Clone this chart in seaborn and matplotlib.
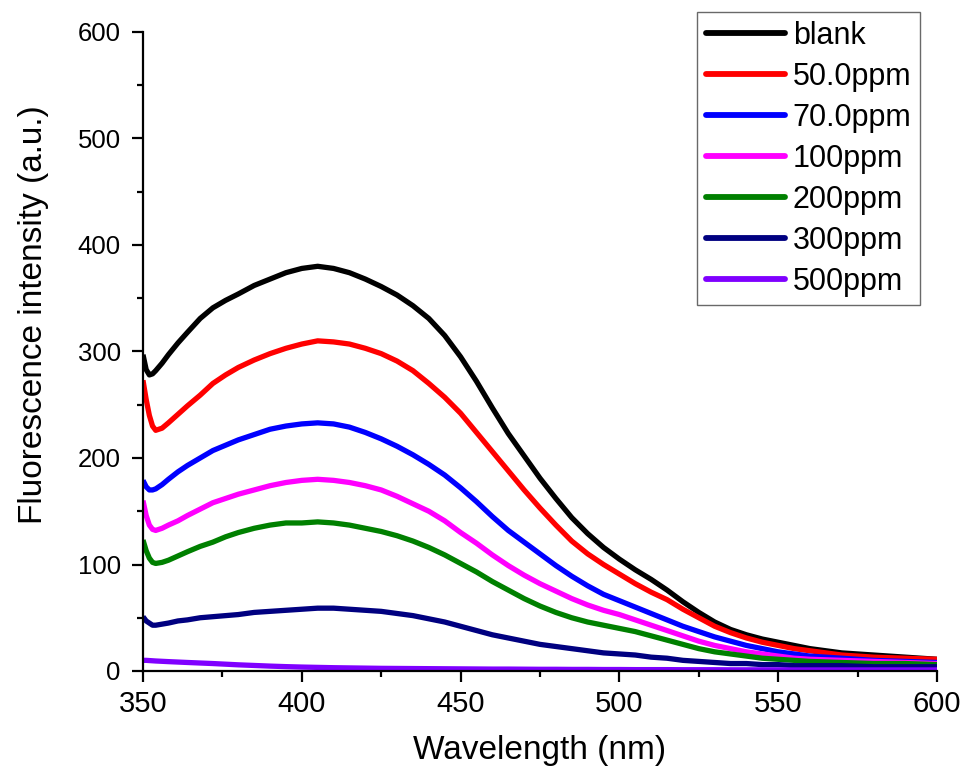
import numpy as np
import pandas as pd
import matplotlib
matplotlib.use("Agg")
import matplotlib.pyplot as plt
from matplotlib.ticker import MultipleLocator
from matplotlib import font_manager
import seaborn as sns

wavelength = [350, 351, 352, 353, 354, 356, 358, 361, 364, 368, 372, 376, 380,
              385, 390, 395, 400, 405, 410, 415, 420, 425, 430, 435, 440, 445, 450,
              455, 460, 465, 470, 475, 480, 485, 490, 495, 500, 505, 510, 515, 520,
              525, 530, 535, 540, 545, 550, 555, 560, 570, 580, 590, 600]

blank = [297, 283, 278, 279, 282, 289, 297, 308, 318, 331, 341, 348, 354,
         362, 368, 374, 378, 380, 378, 374, 368, 361, 353, 343, 331, 315, 295,
         272, 247, 223, 202, 181, 162, 144, 129, 116, 105, 95, 86, 76, 65,
         55, 46, 39, 34, 30, 27, 24, 21, 17, 15, 13, 11]
ppm50 = [273, 255, 240, 230, 226, 228, 233, 241, 249, 259, 270, 278, 285,
         292, 298, 303, 307, 310, 309, 307, 303, 298, 291, 282, 270, 257, 242,
         224, 206, 188, 170, 153, 137, 122, 110, 100, 91, 82, 74, 67, 58,
         50, 42, 36, 31, 27, 24, 21, 19, 15, 13, 12, 11]
ppm70 = [179, 173, 170, 170, 171, 175, 180, 187, 193, 200, 207, 212, 217,
         222, 227, 230, 232, 233, 232, 229, 224, 218, 211, 203, 194, 184, 172,
         159, 145, 132, 121, 110, 99, 89, 80, 72, 66, 60, 54, 48, 42,
         37, 32, 28, 24, 21, 18, 16, 14, 12, 10, 9, 8]
ppm100 = [160, 146, 137, 133, 132, 134, 137, 141, 146, 152, 158, 162, 166,
          170, 174, 177, 179, 180, 179, 177, 174, 170, 164, 157, 150, 141, 130,
          120, 109, 99, 90, 82, 75, 68, 62, 57, 53, 48, 43, 38, 33,
          28, 24, 21, 18, 16, 14, 12, 11, 10, 9, 8, 7]
ppm200 = [123, 113, 106, 102, 101, 102, 104, 108, 112, 117, 121, 126, 130,
          134, 137, 139, 139, 140, 139, 137, 134, 131, 127, 122, 116, 109, 101,
          93, 84, 76, 68, 61, 55, 50, 46, 43, 40, 37, 33, 29, 25,
          21, 18, 16, 14, 12, 11, 10, 9, 8, 7, 7, 6]
ppm300 = [51, 47, 45, 43, 43, 44, 45, 47, 48, 50, 51, 52, 53,
          55, 56, 57, 58, 59, 59, 58, 57, 56, 54, 52, 49, 46, 42,
          38, 34, 31, 28, 25, 23, 21, 19, 17, 16, 15, 13, 12, 10,
          9, 8, 7, 7, 6, 6, 5, 5, 5, 4, 4, 4]
ppm500 = [10, 10, 9.8, 9.6, 9.4, 9.1, 8.8, 8.4, 8.0, 7.5, 7.0, 6.4, 5.8,
          5.2, 4.6, 4.1, 3.7, 3.4, 3.1, 2.9, 2.7, 2.5, 2.4, 2.3, 2.2, 2.1, 2.0,
          1.9, 1.8, 1.8, 1.7, 1.6, 1.6, 1.5, 1.5, 1.4, 1.4, 1.3, 1.3, 1.3, 1.2,
          1.2, 1.2, 1.1, 1.1, 1.1, 1.1, 1.0, 1.0, 1.0, 1.0, 1.0, 1.0]

series_names = ["blank", "50.0ppm", "70.0ppm", "100ppm", "200ppm", "300ppm", "500ppm"]
series_values = [blank, ppm50, ppm70, ppm100, ppm200, ppm300, ppm500]
series_colors = ["#000000", "#FF0000", "#0000FF", "#FF00FF", "#008000", "#000080", "#7F00FF"]

x_ticks = [350, 400, 450, 500, 550, 600]
y_ticks = [0, 100, 200, 300, 400, 500, 600]

rows = []
for name, vals in zip(series_names, series_values):
    for w, v in zip(wavelength, vals):
        rows.append({"Wavelength": w, "Intensity": v, "Sample": name})
df = pd.DataFrame(rows)

sns.set_style("ticks")
plt.rcParams["font.family"] = ["Liberation Sans", "DejaVu Sans"]
for k in ["text.color", "axes.labelcolor", "xtick.color", "ytick.color", "axes.edgecolor"]:
    plt.rcParams[k] = "black"

installed = {f.name for f in font_manager.fontManager.ttflist}
narrow = "Liberation Sans Narrow" if "Liberation Sans Narrow" in installed else "Liberation Sans"

fig = plt.figure(figsize=(9.61, 7.72), dpi=100)
ax = fig.add_axes([143 / 961, 1 - 671 / 772, (937 - 143) / 961, (671 - 32) / 772])

sns.lineplot(data=df, x="Wavelength", y="Intensity", hue="Sample",
             hue_order=series_names, palette=dict(zip(series_names, series_colors)),
             linewidth=3.8, ax=ax, sort=False, estimator=None)
for ln in ax.get_lines():
    ln.set_solid_joinstyle("round")
    ln.set_solid_capstyle("butt")

ax.set_xlim(350, 600)
ax.set_ylim(0, 600)
ax.set_xticks(x_ticks)
ax.set_yticks(y_ticks)
ax.xaxis.set_minor_locator(MultipleLocator(25))
ax.yaxis.set_minor_locator(MultipleLocator(50))
for s in ["top", "right"]:
    ax.spines[s].set_visible(False)
for s in ["left", "bottom"]:
    ax.spines[s].set_linewidth(1.6)
    ax.spines[s].set_color("black")
ax.tick_params(axis="both", which="major", length=8, width=1.6, color="black", direction="out")
ax.tick_params(axis="both", which="minor", length=4.5, width=1.6, color="black", direction="out")
ax.tick_params(axis="y", labelsize=18.5, pad=8)
ax.tick_params(axis="x", pad=6)
for lab in ax.get_xticklabels():
    lab.set_fontfamily([narrow, "Liberation Sans"])
    lab.set_fontsize(21)

ax.set_xlabel("Wavelength (nm)", fontsize=24, labelpad=12)
ax.set_ylabel("Fluorescence intensity (a.u.)", fontsize=24)
ax.yaxis.set_label_coords(-0.118, (671 - 315) / 639)

leg = ax.legend(loc="upper right", bbox_to_anchor=(920 / 961, 1 - 12 / 772),
                bbox_transform=fig.transFigure, borderaxespad=0, fontsize=22,
                frameon=True, fancybox=False, handlelength=2.6, handletextpad=0.25,
                labelspacing=0.36, borderpad=0.28, title=None)
leg.get_frame().set_edgecolor("#444444")
leg.get_frame().set_linewidth(1.0)
for line in leg.get_lines():
    line.set_linewidth(4.2)
    line.set_solid_capstyle("round")

fig.savefig("out.png", dpi=100)
